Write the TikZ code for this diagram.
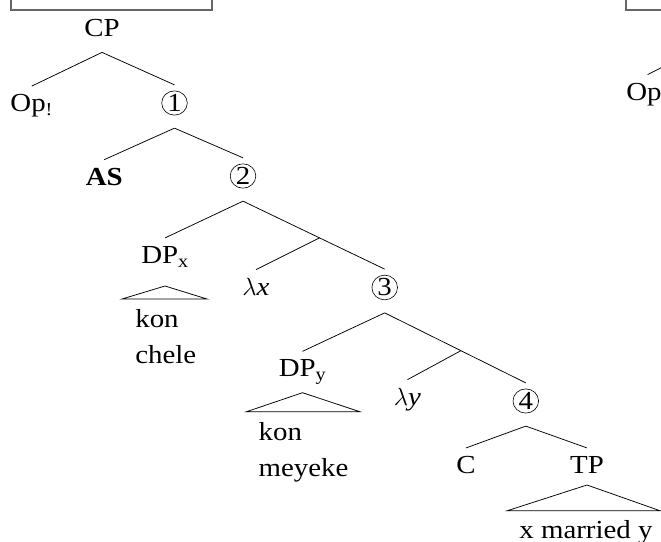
\documentclass[tikz,border=0pt]{standalone}
\usepackage{fontspec}
\setmainfont{Liberation Serif}[FakeStretch=1.11]
\usepackage{tikz}
\usetikzlibrary{shapes.geometric}
\usetikzlibrary{positioning,calc}
\tikzstyle{cat node}=[anchor=base, inner sep=0pt, text height=25pt, text depth=0pt]
\tikzstyle{num node}=[ellipse, draw, line width=0.6pt, inner sep=0pt, outer ysep=6pt, minimum width=25.6pt, minimum height=20.7pt]
\tikzstyle{leaf}=[anchor=base west, align=left, inner sep=0pt]
\tikzstyle{roof}=[line width=0.75pt]
\tikzstyle{frame}=[draw=black!60, line width=1.1pt]

\begin{document}
\begin{tikzpicture}[x=1pt, y=-1pt, line width=0.75pt, font=\fontsize{26}{35.6}\selectfont]
  \useasboundingbox (0,0) rectangle (661,541);
  \clip (0,0) rectangle (661,541);
%
  \draw[frame] (11,-5) |- (212,10) -- (212,-5);
  \draw[frame] (626,-5) |- (670,10);
%
  \node[cat node, text depth=16pt] (1) at (102,36) {CP};
  \node[cat node] (2) at (31.7,111.5) {Op\textsubscript{!}};
  \node[num node] (3) at (174.5,103) {1};
  \node[cat node] (4) at (104.3,185) {\textbf{AS}};
  \node[num node] (5) at (243,176) {2};
  \node[cat node] (6) at (165,263.3) {DP\textsubscript{x}};
  \node[cat node] (7) at (256,295) {$\lambda$\textit{x}};
  \node[num node] (8) at (384.7,287.5) {3};
  \node[cat node] (9) at (302.5,376.7) {DP\textsubscript{y}};
  \node[cat node] (10) at (407.5,405) {$\lambda$\textit{y}};
  \node[num node] (11) at (525.8,401) {4};
  \node[cat node] (12) at (466,473.3) {C};
  \node[cat node] (13) at (587,473.3) {TP};
  \node[cat node] (14) at (647.6,100) {Op\textsubscript{!}};
  \coordinate (15) at (700,48);
  \node[leaf] (16) at (135,363.3) {kon\\chele};
  \node[leaf] (17) at (258.3,476) {kon\\meyeke};
  \node[cat node] (18) at (586,538) {x married y};
%
  \coordinate (3a) at ([yshift=-7pt]3.south);
  \coordinate (5a) at ([yshift=-7pt]5.south);
  \coordinate (8a) at ([yshift=-7pt]8.south);
  \coordinate (11a) at ([yshift=-7pt]11.south);
  \coordinate (5j) at ($(5a)!.54!(8.north)$);
  \coordinate (8j) at ($(8a)!.54!(11.north)$);
 \path
	(1.south) edge (2.north)
	(1.south) edge (3.north)
	(3a) edge (4.north)
	(3a) edge (5.north)
	(5a) edge (6.north)
	(5a) edge (8.north)
	(5j) edge (7.north)
	(8a) edge (9.north)
	(8a) edge (11.north)
	(8j) edge (10.north)
	(11a) edge (12.north)
	(11a) edge (13.north)
	(14.north) edge (15);
%
  \draw[roof] ([yshift=-22.7pt]6.base) -- ++(-43,13) -- ++(85,0) -- cycle;
  \draw[roof] ([yshift=-16pt]9.base) -- ++(-56,19) -- ++(113.3,0) -- cycle;
  \draw[roof] ([yshift=-11.7pt]13.base) -- ++(-79.7,25.7) -- ++(152.7,0) -- cycle;
%
\end{tikzpicture}
\end{document}
